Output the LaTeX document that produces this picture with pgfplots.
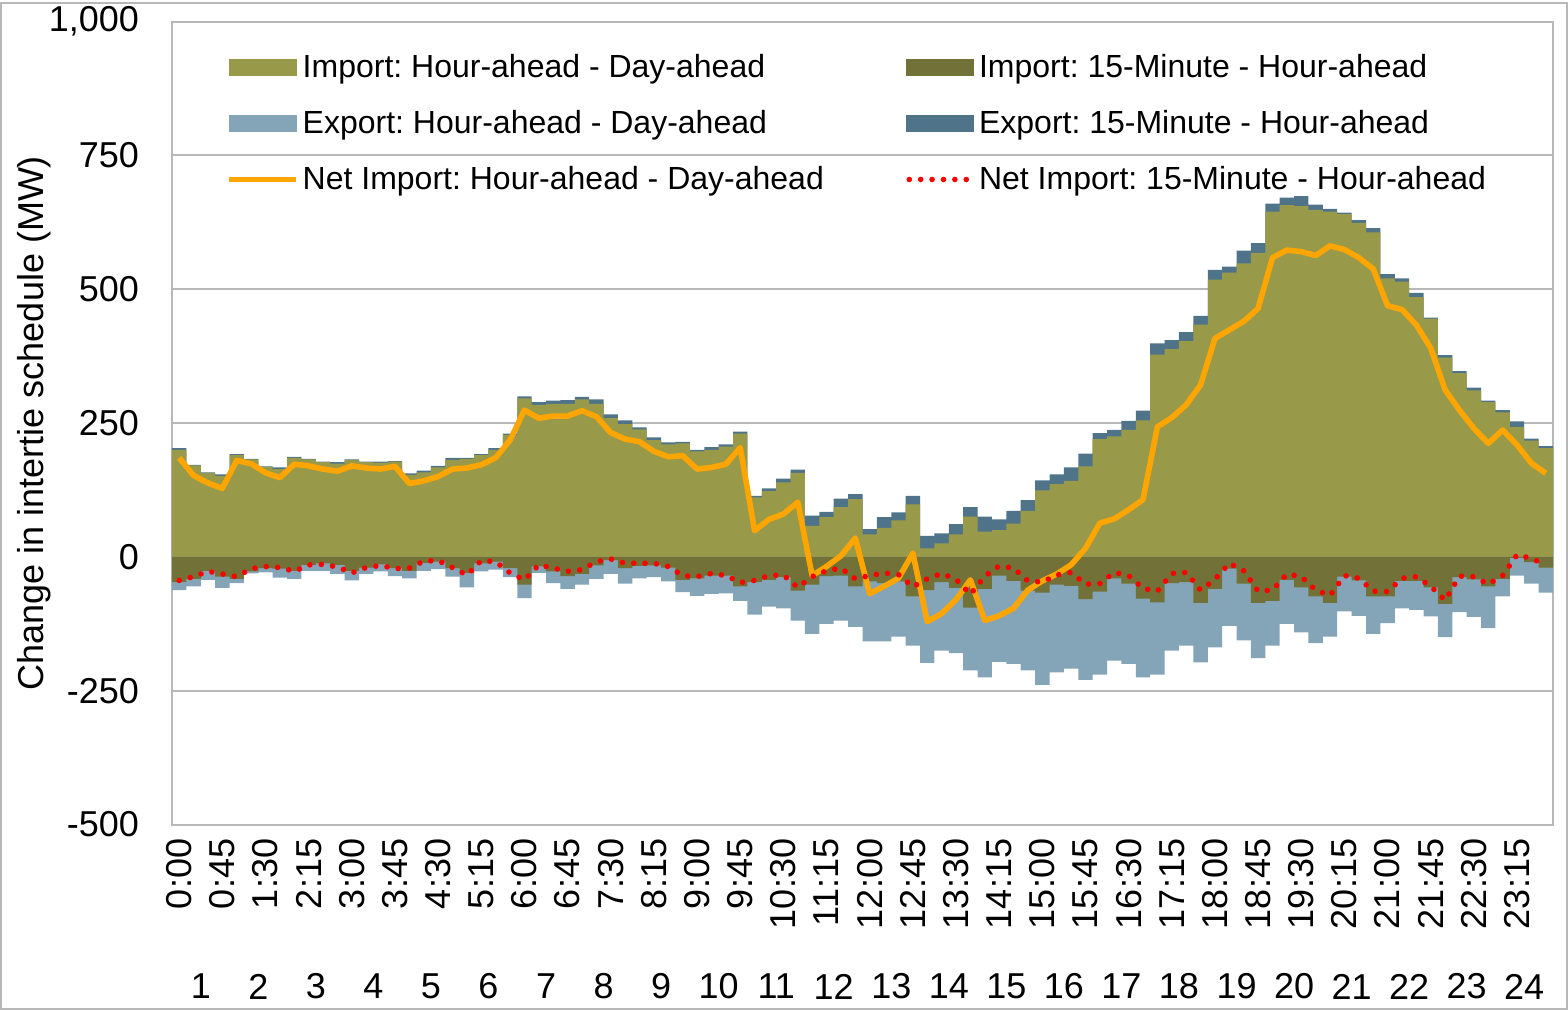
\documentclass[border=0pt]{standalone}
\usepackage{pgfplots}
\pgfplotsset{compat=1.18}
\usepackage{pgfplotstable}
\usepackage{fontspec}
\setmainfont{Liberation Sans}
\frenchspacing
\usetikzlibrary{calc}
\definecolor{olv}{RGB}{153,153,74}
\definecolor{dolv}{RGB}{114,114,56}
\definecolor{lblu}{RGB}{132,165,184}
\definecolor{dblu}{RGB}{79,116,138}
\definecolor{orng}{RGB}{255,165,0}
\definecolor{gridc}{RGB}{184,184,184}
\newcommand{\tickfont}{\fontsize{18}{21.6}\selectfont}
\newcommand{\legfont}{\fontsize{16}{19.2}\selectfont}

% t: 15-min interval; impHA: Import HA-DA; expF: Export 15M-HA; impF: Import 15M-HA;
% expHA: Export HA-DA; netHA: Net import HA-DA; netF: Net import 15M-HA
\pgfplotstableread{
t impHA expF impF expHA netHA netF
0 200 3 -47 -15 185 -44
1 171 1 -41 -14 152 -37
2 157 1 -26 -17 138 -27
3 151 3 -37 -21 128 -32
4 190 2 -41 -8 180 -37
5 182 1 -27 -4 174 -22
6 168 1 -21 -8 157 -18
7 164 3 -22 -17 148 -20
8 185 2 -26 -15 173 -27
9 182 1 -15 -11 170 -15
10 177 1 -12 -14 164 -14
11 174 3 -15 -17 160 -19
12 181 1 -26 -18 170 -30
13 177 1 -20 -12 166 -20
14 176 2 -14 -13 164 -16
15 178 1 -21 -15 169 -22
16 153 3 -26 -14 137 -21
17 158 3 -11 -15 142 -8
18 167 3 -9 -14 150 -7
19 181 4 -21 -16 164 -20
20 183 2 -30 -27 166 -34
21 190 2 -12 -15 172 -7
22 200 3 -9 -15 185 -9
23 228 2 -21 -17 218 -30
24 296 4 -52 -25 274 -43
25 284 5 -18 -12 259 -15
26 286 6 -27 -22 263 -21
27 286 7 -36 -24 263 -27
28 294 5 -32 -20 273 -24
29 286 8 -16 -25 262 -9
30 259 7 -6 -26 232 -4
31 248 7 -21 -29 220 -12
32 238 4 -17 -23 215 -12
33 218 5 -16 -22 197 -12
34 210 4 -20 -26 187 -18
35 212 3 -43 -23 189 -35
36 197 3 -40 -33 164 -37
37 200 5 -35 -34 167 -31
38 206 4 -35 -33 173 -35
39 230 4 -55 -27 204 -48
40 111 3 -47 -61 49 -44
41 123 5 -43 -50 70 -35
42 139 7 -38 -58 80 -34
43 157 6 -63 -56 102 -57
44 58 19 -52 -92 -35 -37
45 74 10 -36 -89 -18 -26
46 93 16 -35 -84 2 -21
47 108 9 -55 -76 35 -41
48 42 10 -46 -112 -69 -35
49 54 20 -49 -109 -55 -30
50 68 15 -46 -103 -40 -33
51 98 16 -74 -92 7 -56
52 16 23 -62 -136 -121 -41
53 25 19 -47 -128 -106 -31
54 42 19 -58 -122 -80 -42
55 75 18 -95 -117 -43 -70
56 47 28 -60 -165 -119 -36
57 50 20 -35 -161 -110 -17
58 62 24 -45 -155 -96 -21
59 86 20 -63 -149 -62 -45
60 124 19 -67 -172 -45 -47
61 136 18 -52 -164 -32 -34
62 142 25 -54 -155 -15 -29
63 169 24 -79 -151 16 -51
64 220 11 -65 -155 63 -50
65 225 12 -40 -154 71 -29
66 237 17 -50 -150 88 -35
67 255 18 -78 -147 107 -59
68 378 21 -85 -135 243 -64
69 388 17 -49 -126 260 -31
70 403 17 -47 -119 284 -29
71 434 16 -86 -111 321 -62
72 518 18 -60 -109 408 -42
73 531 11 -22 -107 424 -12
74 548 24 -50 -106 440 -26
75 568 18 -86 -103 464 -64
76 645 15 -82 -84 559 -62
77 657 14 -43 -82 573 -32
78 655 19 -57 -84 570 -37
79 648 10 -74 -87 563 -62
80 645 5 -86 -63 581 -72
81 640 3 -37 -65 574 -35
82 624 5 -44 -66 559 -40
83 606 8 -74 -70 538 -64
84 520 8 -74 -50 469 -65
85 514 6 -45 -51 462 -40
86 485 8 -45 -54 433 -37
87 445 2 -57 -54 390 -55
88 372 5 -88 -62 312 -81
89 343 4 -38 -65 274 -36
90 311 5 -42 -70 240 -37
91 289 3 -55 -78 212 -51
92 270 4 -41 -33 237 -35
93 243 10 -2 -33 209 4
94 217 4 -10 -40 175 -3
95 203 4 -20 -47 156 -15
}\data

\begin{document}
\begin{tikzpicture}
\begin{axis}[
  name=ax,
  scale only axis, width=690.5pt, height=401.5pt,
  xmin=-0.5, xmax=95.5, ymin=-500, ymax=1000,
  ytick={-500,-250,0,250,500,750,1000},
  yticklabels={-500,-250,0,250,500,750,{1,000}},
  xtick={0,3,6,9,12,15,18,21,24,27,30,33,36,39,42,45,48,51,54,57,60,63,66,69,72,75,78,81,84,87,90,93},
  xticklabels={0:00,0:45,1:30,2:15,3:00,3:45,4:30,5:15,6:00,6:45,7:30,8:15,9:00,9:45,10:30,11:15,12:00,12:45,13:30,14:15,15:00,15:45,16:30,17:15,18:00,18:45,19:30,20:15,21:00,21:45,22:30,23:15},
  xticklabel style={rotate=90, anchor=east, inner xsep=7pt},
  extra x ticks={1.5,5.5,9.5,13.5,17.5,21.5,25.5,29.5,33.5,37.5,41.5,45.5,49.5,53.5,57.5,61.5,65.5,69.5,73.5,77.5,81.5,85.5,89.5,93.5},
  extra x tick labels={1,2,3,4,5,6,7,8,9,10,11,12,13,14,15,16,17,18,19,20,21,22,23,24},
  extra x tick style={grid=none, xticklabel style={rotate=-90, anchor=center, yshift=-81pt}},
  tick label style={font=\tickfont},
  yticklabel shift=13pt,
  ymajorgrids, grid style={line width=1pt, gridc},
  axis line style={line width=1pt, gridc},
  major tick length=0pt,
  ylabel={Change in intertie schedule (MW)},
  ylabel style={font=\tickfont, at={(axis description cs:-0.1000,0.5)}, anchor=center},
  legend columns=2,
  legend cell align=left,
  legend style={at={(axis description cs:0.035,0.970)}, anchor=north west, draw=none, fill=none,
    font=\legfont, row sep=11pt, /tikz/every even column/.append style={column sep=39pt}},
]
\addlegendimage{legend image code/.code={\fill[olv] (0pt,-4pt) rectangle (33.5pt,4pt);}}
\addlegendentry{Import: Hour-ahead - Day-ahead}
\addlegendimage{legend image code/.code={\fill[dolv] (0pt,-4pt) rectangle (33.5pt,4pt);}}
\addlegendentry{Import: 15-Minute - Hour-ahead}
\addlegendimage{legend image code/.code={\fill[lblu] (0pt,-4pt) rectangle (33.5pt,4pt);}}
\addlegendentry{Export: Hour-ahead - Day-ahead}
\addlegendimage{legend image code/.code={\fill[dblu] (0pt,-4pt) rectangle (33.5pt,4pt);}}
\addlegendentry{Export: 15-Minute - Hour-ahead}
\addlegendimage{legend image code/.code={\draw[orng, line width=2.5pt] (0pt,0pt) -- (33.5pt,0pt);}}
\addlegendentry{Net Import: Hour-ahead - Day-ahead}
\addlegendimage{legend image code/.code={\draw[red, line width=2.8pt, line cap=round, dash pattern=on 0pt off 5.7pt] (1.5pt,0pt) -- (33pt,0pt);}}
\addlegendentry{Net Import: 15-Minute - Hour-ahead}

% positive stack: Import HA-DA with Export 15M-HA on top
\addplot[forget plot, ybar, bar width=1, bar shift=0pt, fill=dblu, draw=none]
  table[x=t, y expr=\thisrow{impHA}+\thisrow{expF}] {\data};
\addplot[forget plot, ybar, bar width=1, bar shift=0pt, fill=olv, draw=none]
  table[x=t, y=impHA] {\data};
% negative stack: Import 15M-HA with Export HA-DA below
\addplot[forget plot, ybar, bar width=1, bar shift=0pt, fill=lblu, draw=none]
  table[x=t, y expr=\thisrow{impF}+\thisrow{expHA}] {\data};
\addplot[forget plot, ybar, bar width=1, bar shift=0pt, fill=dolv, draw=none]
  table[x=t, y=impF] {\data};
% net lines
\addplot[forget plot, sharp plot, orng, line width=2.8pt, line join=round, mark=none]
  table[x=t, y=netHA] {\data};
\addplot[forget plot, sharp plot, red, line width=2.8pt, line cap=round, dash pattern=on 0pt off 5.7pt, mark=none]
  table[x=t, y=netF] {\data};
\end{axis}
\draw[gridc, line width=1pt] ($(ax.south west)+(-85.5pt,-92pt)$) rectangle ($(ax.north east)+(7pt,9.5pt)$);
\end{tikzpicture}
\end{document}
